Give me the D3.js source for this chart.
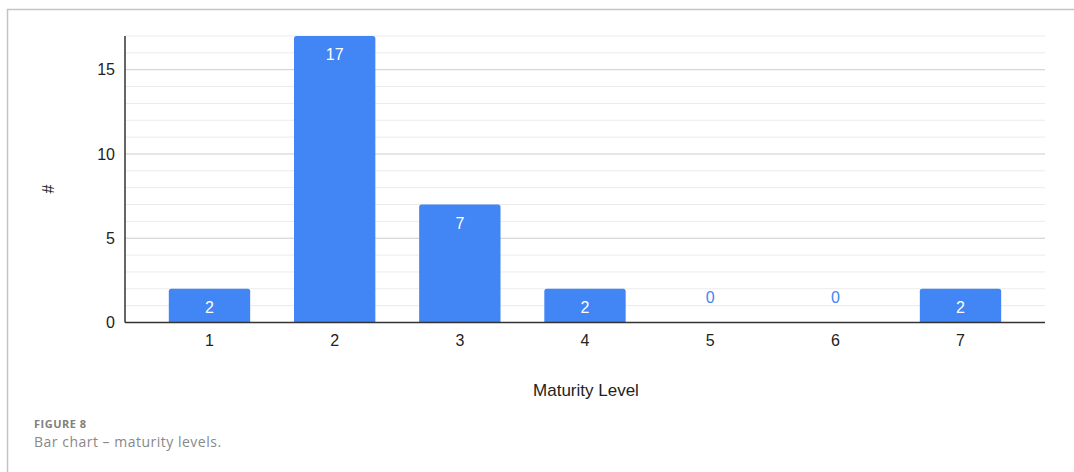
<!DOCTYPE html>
<html>
<head>
<meta charset="utf-8">
<script src="https://cdn.jsdelivr.net/npm/d3@7"></script>
<style>
  html, body { margin: 0; padding: 0; background: #fff; }
  svg { display: block; }
</style>
</head>
<body>
<svg id="chart" width="1074" height="472"></svg>
<script>
const categories = ["1", "2", "3", "4", "5", "6", "7"];
const counts = [2, 17, 7, 2, 0, 0, 2];
const yTicks = [0, 5, 10, 15];
const minorTicks = [1, 2, 3, 4, 6, 7, 8, 9, 11, 12, 13, 14, 16, 17];
const xTitle = "Maturity Level";
const yTitle = "#";
const figLabel = "FIGURE 8";
const figCaption = "Bar chart \u2013 maturity levels.";

(function () {
const svg = d3.select("#chart");
const W = 1074, H = 472;
const pLeft = 125, pRight = 1045, pTop = 36, pBottom = 322.5;

// frame
svg.append("path")
  .attr("d", `M7.5,${H} L7.5,9.5 L${W},9.5`)
  .attr("fill", "none").attr("stroke", "#c4c4c4").attr("stroke-width", 1.5);

const x = d3.scaleBand().domain(categories).range([pLeft, pRight]).paddingInner(0.35).paddingOuter(0.35);
const y = d3.scaleLinear().domain([0, 17]).range([pBottom, pTop]);

// minor gridlines
svg.append("g").selectAll("line").data(minorTicks).join("line")
  .attr("x1", pLeft).attr("x2", pRight)
  .attr("y1", d => y(d)).attr("y2", d => y(d))
  .attr("stroke", "#ebebeb").attr("stroke-width", 1);

// major gridlines
svg.append("g").selectAll("line").data(yTicks.filter(d => d > 0)).join("line")
  .attr("x1", pLeft).attr("x2", pRight)
  .attr("y1", d => y(d)).attr("y2", d => y(d))
  .attr("stroke", "#cccccc").attr("stroke-width", 1);

// y axis
const yAxis = svg.append("g").attr("transform", `translate(${pLeft},0)`)
  .call(d3.axisLeft(y).tickValues(yTicks).tickSize(0).tickPadding(10));
yAxis.select(".domain").remove();
yAxis.selectAll("text").attr("font-family", "Liberation Sans, Arial, sans-serif")
  .attr("font-size", 16).attr("fill", "#222");
svg.append("line").attr("x1", pLeft).attr("x2", pLeft).attr("y1", pTop).attr("y2", pBottom)
  .attr("stroke", "#333").attr("stroke-width", 1.5);

// bars with rounded top corners
const r = 2.5;
function barPath(x0, w, yTop, yBot) {
  if (yBot - yTop < 0.5) return "";
  return `M${x0},${yBot} L${x0},${yTop + r} Q${x0},${yTop} ${x0 + r},${yTop} L${x0 + w - r},${yTop} Q${x0 + w},${yTop} ${x0 + w},${yTop + r} L${x0 + w},${yBot} Z`;
}
svg.append("g").selectAll("path").data(counts).join("path")
  .attr("d", (d, i) => barPath(x(categories[i]), x.bandwidth(), y(d), y(0)))
  .attr("fill", "#4285f4");

// x axis
const xAxis = svg.append("g").attr("transform", `translate(0,${pBottom})`)
  .call(d3.axisBottom(x).tickSize(0).tickPadding(12));
xAxis.select(".domain").remove();
xAxis.selectAll("text").attr("font-family", "Liberation Sans, Arial, sans-serif")
  .attr("font-size", 16).attr("fill", "#222");
svg.append("line").attr("x1", pLeft).attr("x2", pRight).attr("y1", pBottom).attr("y2", pBottom)
  .attr("stroke", "#333").attr("stroke-width", 1.5);

// value labels
svg.append("g").selectAll("text").data(counts).join("text")
  .attr("x", (d, i) => x(categories[i]) + x.bandwidth() / 2)
  .attr("y", d => d > 0 ? y(d) + 24 : y(0) - 20)
  .attr("text-anchor", "middle")
  .attr("font-family", "Liberation Sans, Arial, sans-serif")
  .attr("font-size", 16)
  .attr("fill", d => d > 0 ? "#ffffff" : "#4285f4")
  .text(d => d);

// axis titles
svg.append("text").attr("x", 586).attr("y", 396)
  .attr("text-anchor", "middle")
  .attr("font-family", "Liberation Sans, Arial, sans-serif")
  .attr("font-size", 17).attr("fill", "#222")
  .text(xTitle);
svg.append("text").attr("transform", "translate(54,189) rotate(-90)")
  .attr("text-anchor", "middle")
  .attr("font-family", "Liberation Sans, Arial, sans-serif")
  .attr("font-size", 16).attr("fill", "#222")
  .text(yTitle);

// caption
svg.append("text").attr("x", 34).attr("y", 428)
  .attr("font-family", "Open Sans, Lato, sans-serif")
  .attr("font-size", 11).attr("font-weight", "bold").attr("fill", "#808080")
  .attr("letter-spacing", 0.5)
  .text(figLabel);
svg.append("text").attr("x", 34).attr("y", 447)
  .attr("font-family", "Open Sans, Lato, sans-serif")
  .attr("font-size", 14).attr("fill", "#888888")
  .attr("letter-spacing", 0.5)
  .text(figCaption);
})();
</script>
</body>
</html>
